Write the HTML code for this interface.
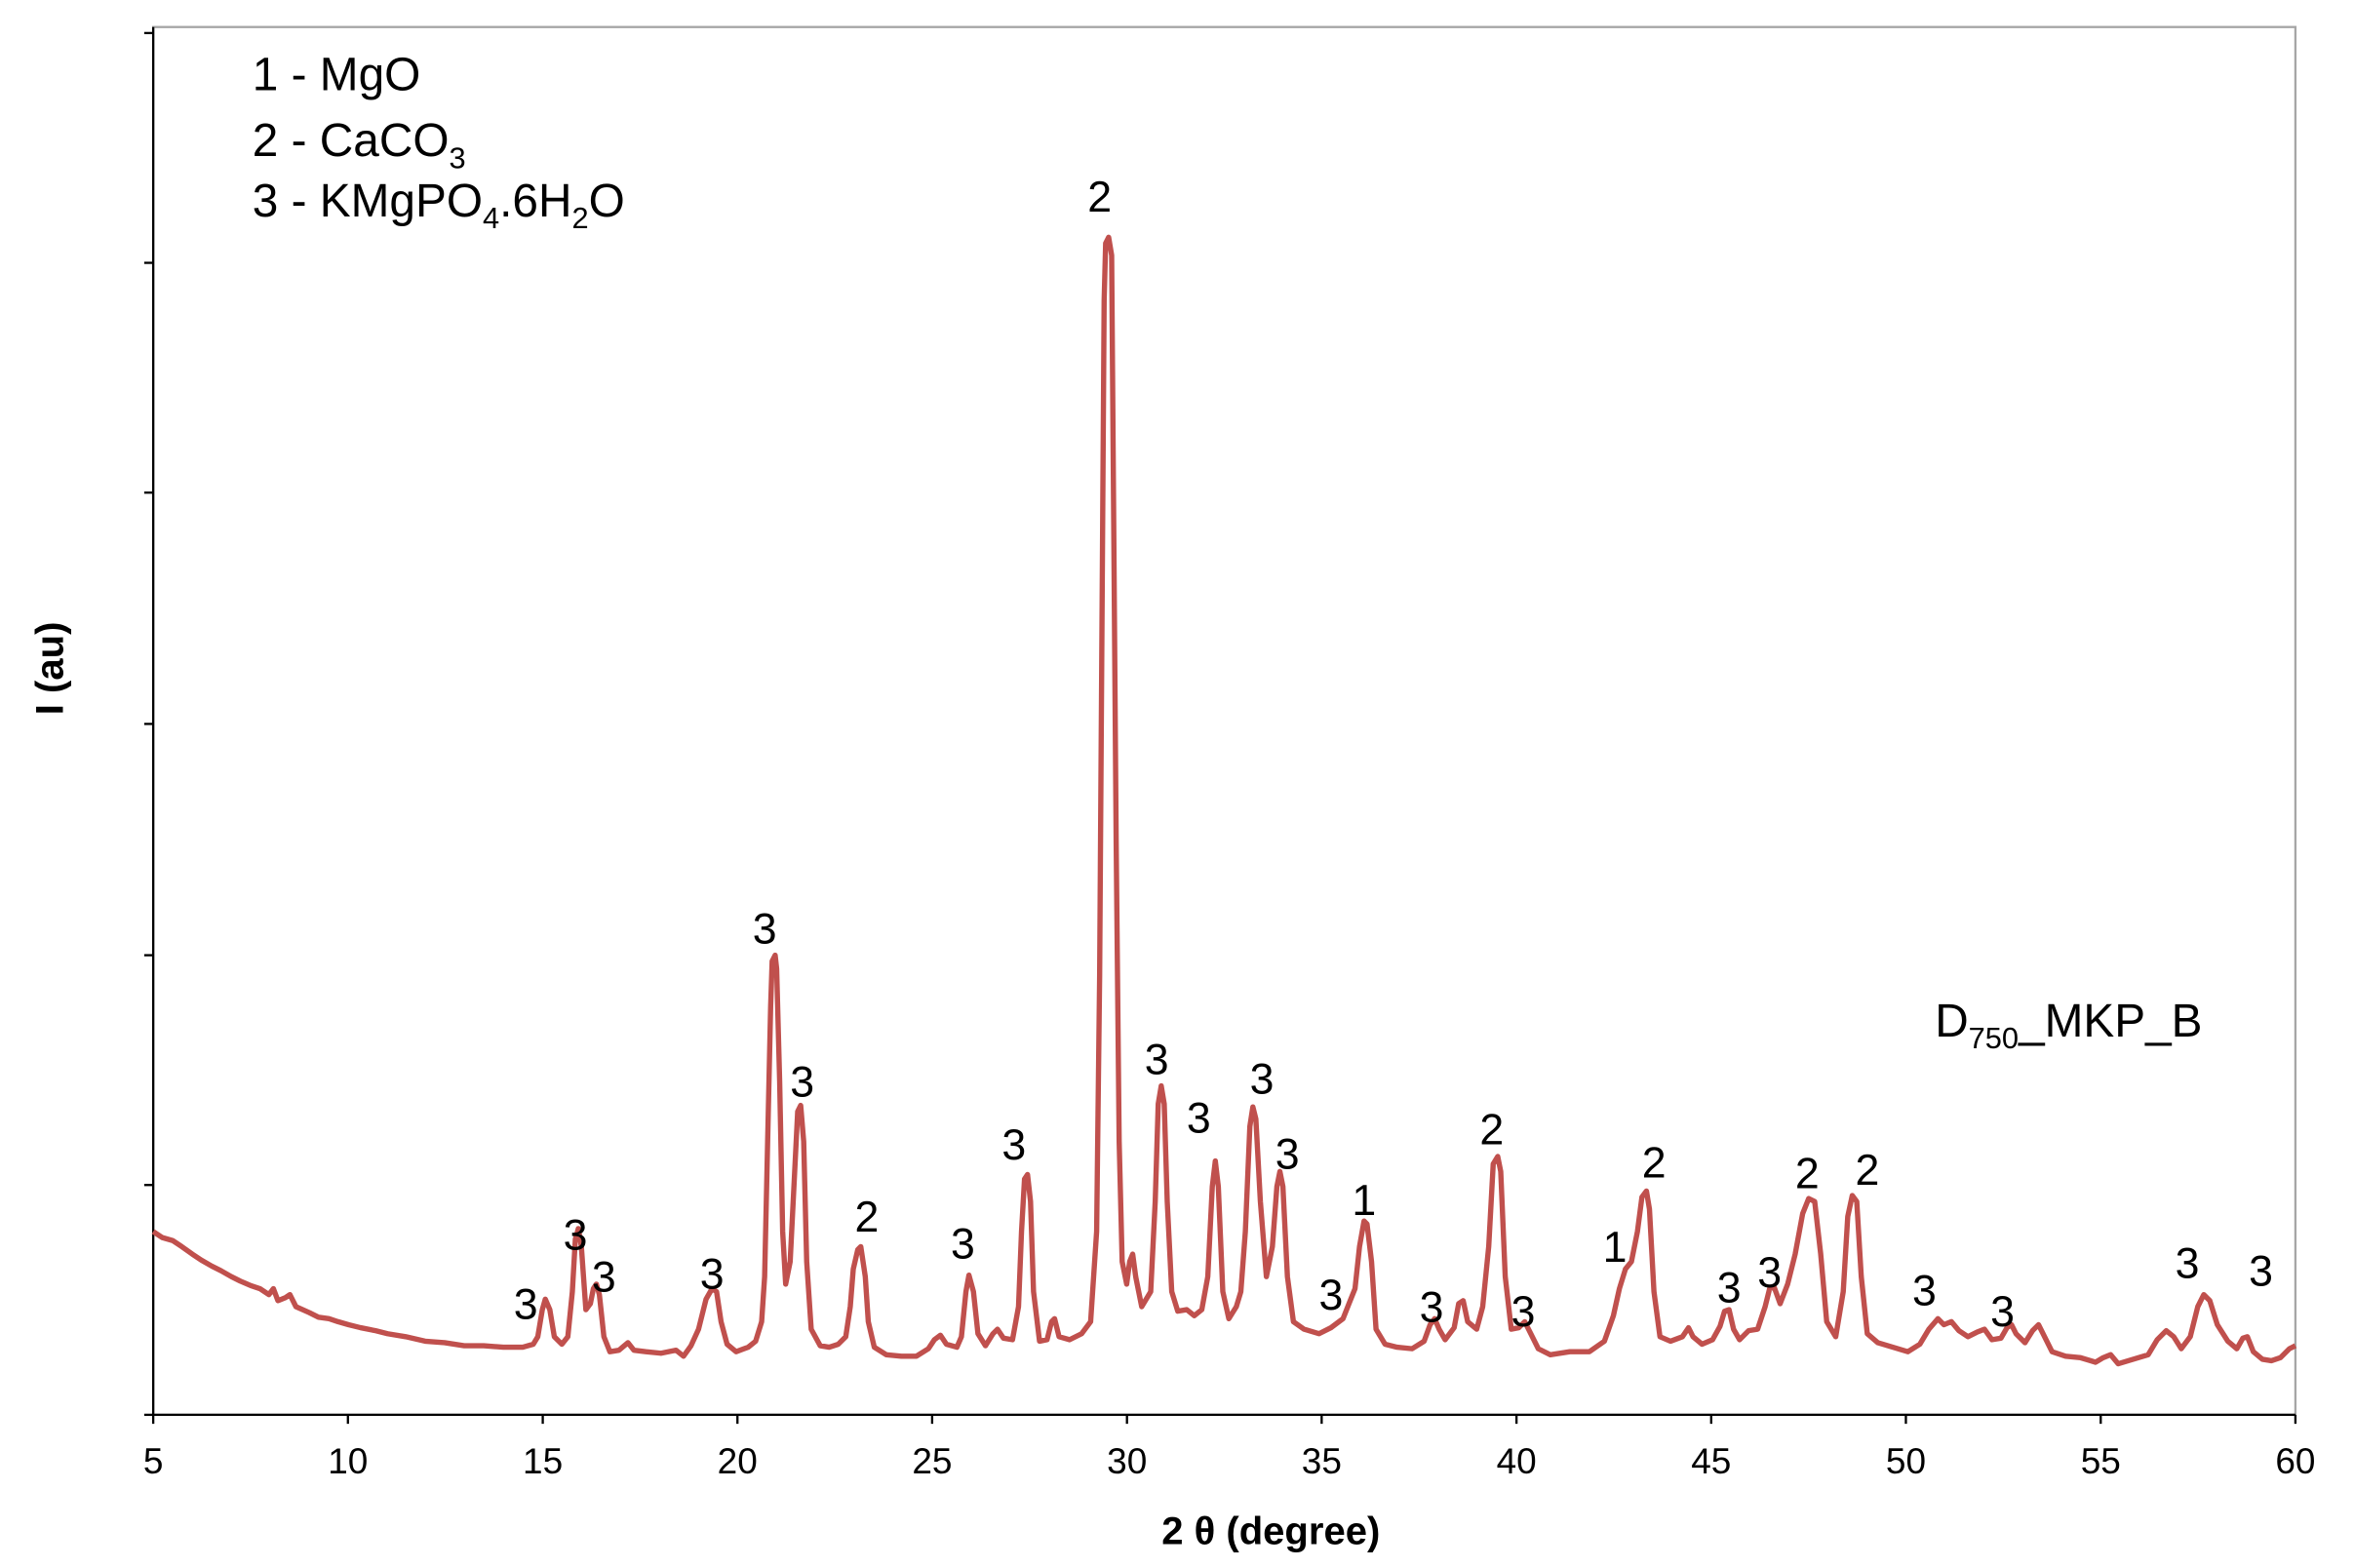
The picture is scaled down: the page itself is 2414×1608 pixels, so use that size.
<!DOCTYPE html>
<html><head><meta charset="utf-8">
<style>
html,body{margin:0;padding:0;background:#fff;}
svg{display:block;}
text{font-family:"Liberation Sans","DejaVu Sans",sans-serif;fill:#000;}
</style></head>
<body>
<svg width="2414" height="1608" viewBox="0 0 1567 1044" preserveAspectRatio="none" xmlns="http://www.w3.org/2000/svg">
<rect x="0" y="0" width="1567" height="1044" fill="#fff"/>
<rect x="102" y="18" width="1426" height="924" fill="none" stroke="#a6a6a6" stroke-width="1.5"/>
<g stroke="#000" stroke-width="1.5">
<line x1="102" y1="18" x2="102" y2="942"/>
<line x1="102" y1="942" x2="1528" y2="942"/>
<line x1="96" y1="942" x2="102" y2="942"/>
<line x1="96" y1="789" x2="102" y2="789"/>
<line x1="96" y1="636" x2="102" y2="636"/>
<line x1="96" y1="482" x2="102" y2="482"/>
<line x1="96" y1="328" x2="102" y2="328"/>
<line x1="96" y1="175" x2="102" y2="175"/>
<line x1="96" y1="22" x2="102" y2="22"/>
<line x1="102" y1="942" x2="102" y2="948"/>
<line x1="231.6" y1="942" x2="231.6" y2="948"/>
<line x1="361.3" y1="942" x2="361.3" y2="948"/>
<line x1="490.9" y1="942" x2="490.9" y2="948"/>
<line x1="620.5" y1="942" x2="620.5" y2="948"/>
<line x1="750.2" y1="942" x2="750.2" y2="948"/>
<line x1="879.8" y1="942" x2="879.8" y2="948"/>
<line x1="1009.5" y1="942" x2="1009.5" y2="948"/>
<line x1="1139.1" y1="942" x2="1139.1" y2="948"/>
<line x1="1268.7" y1="942" x2="1268.7" y2="948"/>
<line x1="1398.4" y1="942" x2="1398.4" y2="948"/>
<line x1="1528" y1="942" x2="1528" y2="948"/>
</g>
<g font-size="24" text-anchor="middle">
<text x="102" y="981">5</text><text x="231.6" y="981">10</text><text x="361.3" y="981">15</text>
<text x="490.9" y="981">20</text><text x="620.5" y="981">25</text><text x="750.2" y="981">30</text>
<text x="879.8" y="981">35</text><text x="1009.5" y="981">40</text><text x="1139.1" y="981">45</text>
<text x="1268.7" y="981">50</text><text x="1398.4" y="981">55</text><text x="1528" y="981">60</text>
</g>
<path fill="none" stroke="#c0504d" stroke-width="3.5" stroke-linejoin="round" d="M102 820 L108 824 L115 826 L121 830 L128 835 L134 839 L141 843 L147 846 L154 850 L160 853 L167 856 L173 858 L179 862 L182 858 L185 866 L190 864 L193 862 L197 870 L206 874 L212 877 L219 878 L225 880 L232 882 L240 884 L250 886 L258 888 L270 890 L283 893 L296 894 L309 896 L322 896 L335 897 L348 897 L355 895 L358 890 L361 872 L363 865 L366 872 L369 890 L374 895 L378 890 L381 860 L383 825 L385 818 L387 830 L390 872 L393 868 L395 858 L397 855 L399 862 L402 890 L406 900 L412 899 L418 894 L422 899 L430 900 L440 901 L450 899 L455 903 L460 896 L465 885 L470 865 L474 858 L477 860 L480 880 L484 895 L490 900 L498 897 L503 893 L507 880 L509 850 L511 760 L513 670 L514 640 L516 636 L517 645 L519 720 L521 820 L523 855 L526 840 L529 780 L531 740 L533 736 L535 760 L537 840 L540 885 L546 896 L552 897 L558 895 L563 890 L566 870 L568 845 L571 832 L573 830 L576 850 L578 880 L582 897 L590 902 L600 903 L610 903 L618 898 L622 892 L626 889 L630 895 L637 897 L640 890 L643 860 L645 849 L648 860 L651 888 L656 896 L661 888 L664 885 L668 891 L674 892 L678 870 L680 820 L682 785 L684 782 L686 800 L688 860 L692 893 L697 892 L700 880 L702 878 L705 890 L712 892 L720 888 L726 880 L730 820 L732 650 L734 350 L735 200 L736 162 L738 158 L740 170 L741 300 L743 560 L745 760 L747 840 L750 855 L752 840 L754 835 L756 850 L760 870 L766 860 L769 800 L771 735 L773 723 L775 735 L777 800 L780 860 L784 873 L790 872 L795 876 L800 872 L804 850 L807 790 L809 773 L811 790 L814 860 L818 878 L823 870 L826 860 L829 820 L832 750 L834 737 L836 745 L839 800 L843 850 L847 830 L850 790 L852 780 L854 790 L857 850 L861 880 L868 885 L878 888 L886 884 L894 878 L898 868 L902 858 L905 830 L908 813 L910 815 L913 840 L916 885 L922 895 L930 897 L940 898 L948 893 L952 882 L955 878 L958 885 L962 892 L968 884 L971 868 L974 866 L977 880 L983 885 L987 870 L991 830 L994 775 L997 770 L999 780 L1002 850 L1006 885 L1011 884 L1015 880 L1019 888 L1024 898 L1032 902 L1045 900 L1058 900 L1068 893 L1074 876 L1078 858 L1082 845 L1086 840 L1090 820 L1093 797 L1096 793 L1098 805 L1101 860 L1105 890 L1112 893 L1120 890 L1124 884 L1127 890 L1133 895 L1140 892 L1145 883 L1148 873 L1151 872 L1154 885 L1158 892 L1164 886 L1170 885 L1175 870 L1178 858 L1181 857 L1185 868 L1190 855 L1195 835 L1200 808 L1204 798 L1208 800 L1212 835 L1216 880 L1222 890 L1227 860 L1230 810 L1233 796 L1236 800 L1239 850 L1243 888 L1250 894 L1260 897 L1270 900 L1278 895 L1284 885 L1290 878 L1294 882 L1299 880 L1304 886 L1310 890 L1316 887 L1321 885 L1326 892 L1332 891 L1336 884 L1339 882 L1342 888 L1348 894 L1353 886 L1357 882 L1360 888 L1366 900 L1375 903 L1385 904 L1395 907 L1400 904 L1405 902 L1410 908 L1420 905 L1430 902 L1436 892 L1442 886 L1447 890 L1452 898 L1458 890 L1463 870 L1467 862 L1471 866 L1476 882 L1483 893 L1489 898 L1493 891 L1496 890 L1500 900 L1506 905 L1512 906 L1518 904 L1524 898 L1528 896"/>
<text x="846" y="1028" font-size="26" font-weight="bold" text-anchor="middle">2 θ (degree)</text>
<text transform="translate(42,445) rotate(-90)" font-size="26" font-weight="bold" text-anchor="middle">I (au)</text>
<g font-size="31">
<text x="168" y="60">1 - MgO</text>
<text x="168" y="104">2 - CaCO<tspan font-size="20" dy="8">3</tspan></text>
<text x="168" y="144">3 - KMgPO<tspan font-size="20" dy="8">4</tspan><tspan dy="-8">.6H</tspan><tspan font-size="20" dy="8">2</tspan><tspan dy="-8">O</tspan></text>
<text x="1288" y="690">D<tspan font-size="20" dy="8">750</tspan><tspan dy="-8">_MKP_B</tspan></text>
</g>
<g font-size="29" text-anchor="middle">
<text x="350" y="878">3</text><text x="383" y="832">3</text><text x="402" y="860">3</text>
<text x="474" y="858">3</text><text x="509" y="628">3</text><text x="534" y="730">3</text>
<text x="577" y="820">2</text><text x="641" y="838">3</text><text x="675" y="772">3</text>
<text x="732" y="141">2</text><text x="770" y="715">3</text><text x="798" y="754">3</text>
<text x="840" y="728">3</text><text x="857" y="778">3</text><text x="908" y="809">1</text>
<text x="886" y="872">3</text><text x="953" y="880">3</text><text x="993" y="762">2</text>
<text x="1014" y="883">3</text><text x="1075" y="840">1</text><text x="1101" y="784">2</text>
<text x="1151" y="867">3</text><text x="1178" y="857">3</text><text x="1203" y="791">2</text>
<text x="1243" y="789">2</text><text x="1281" y="869">3</text><text x="1333" y="883">3</text>
<text x="1456" y="851">3</text><text x="1505" y="856">3</text>
</g>
</svg>
</body></html>
